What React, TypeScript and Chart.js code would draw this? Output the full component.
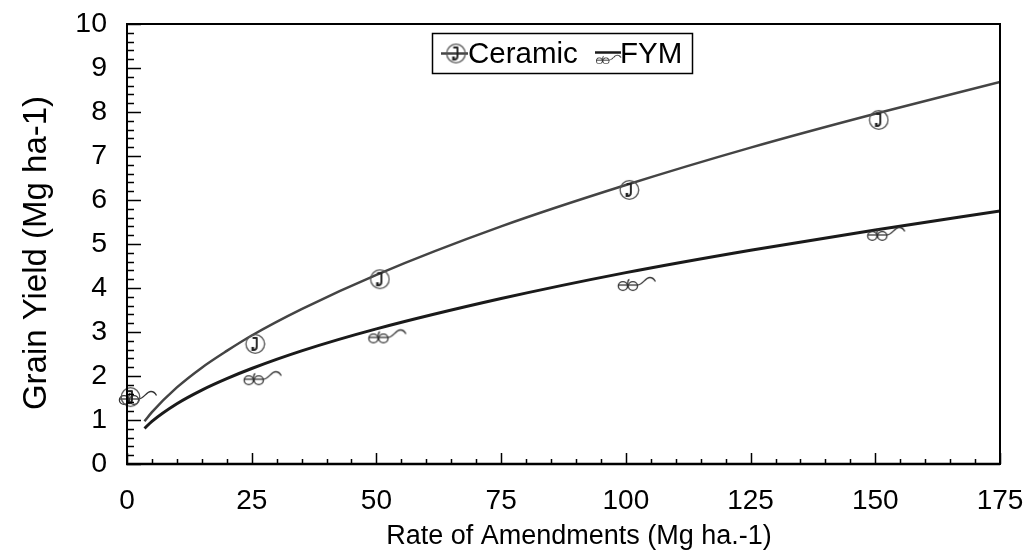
import React, { useEffect, useRef } from 'react';
import { Chart, registerables } from 'chart.js';
Chart.register(...registerables);

// Fitted curves
const curveX = [3.5, 5, 10, 15, 20, 25, 35, 50, 75, 100, 125, 150, 175];
const ceramicFit = [0.97, 1.18, 1.74, 2.19, 2.57, 2.92, 3.52, 4.3, 5.4, 6.34, 7.19, 7.96, 8.68];
const fymFit = [0.81, 0.97, 1.37, 1.68, 1.94, 2.17, 2.57, 3.07, 3.76, 4.35, 4.86, 5.32, 5.75];

// Observed points
const obsX = [0, 25, 50, 100, 150];
const ceramicObs = [1.52, 2.73, 4.2, 6.23, 7.82];
const fymObs = [1.5, 1.95, 2.9, 4.09, 5.23];

const seriesNames = ['Ceramic', 'FYM'];
const xTitle = 'Rate of Amendments (Mg ha.-1)';
const yTitle = 'Grain Yield (Mg ha-1)';
const xTicks = [0, 25, 50, 75, 100, 125, 150, 175];
const yTicks = [0, 1, 2, 3, 4, 5, 6, 7, 8, 9, 10];

const FONT = "'Liberation Sans', Arial, sans-serif";

function makePhone(): HTMLCanvasElement {
  const c = document.createElement('canvas');
  c.width = 28;
  c.height = 24;
  const ctx = c.getContext('2d')!;
  const cx = 17.5, cy = 12;
  ctx.strokeStyle = '#555';
  ctx.lineWidth = 1.3;
  ctx.beginPath();
  ctx.arc(cx, cy, 9.3, 0, Math.PI * 2);
  ctx.stroke();
  ctx.strokeStyle = '#222';
  ctx.fillStyle = '#222';
  ctx.lineWidth = 1.9;
  ctx.lineCap = 'round';
  ctx.beginPath();
  ctx.moveTo(cx - 2, cy - 6);
  ctx.lineTo(cx + 1.5, cy - 6);
  ctx.moveTo(cx + 1.5, cy - 6);
  ctx.lineTo(cx + 1.5, cy + 2.5);
  ctx.quadraticCurveTo(cx + 1.5, cy + 6, cx - 1.5, cy + 6);
  ctx.stroke();
  ctx.fillRect(cx - 3.8, cy + 3, 2.6, 4);
  return c;
}

function makeGlasses(): HTMLCanvasElement {
  const c = document.createElement('canvas');
  c.width = 62;
  c.height = 18;
  const ctx = c.getContext('2d')!;
  ctx.strokeStyle = '#333';
  ctx.lineWidth = 1.3;
  const ox = 23;
  ctx.beginPath();
  ctx.moveTo(ox + 0.5, 10);
  ctx.lineTo(ox + 19.5, 10);
  ctx.stroke();
  ctx.beginPath();
  ctx.ellipse(ox + 5, 11, 4.6, 4.3, 0, Math.PI * 1.0, Math.PI * 3.0);
  ctx.stroke();
  ctx.beginPath();
  ctx.ellipse(ox + 15, 11, 4.6, 4.3, 0, Math.PI * 1.0, Math.PI * 3.0);
  ctx.stroke();
  ctx.beginPath();
  ctx.moveTo(ox + 9.8, 10);
  ctx.quadraticCurveTo(ox + 9.5, 5, ox + 11.5, 4.5);
  ctx.stroke();
  ctx.beginPath();
  ctx.moveTo(ox + 19.5, 10);
  ctx.bezierCurveTo(ox + 25, 10, ox + 27, 2.5, ox + 32, 2.5);
  ctx.bezierCurveTo(ox + 35, 2.5, ox + 36.5, 4.5, ox + 37.5, 6.5);
  ctx.stroke();
  return c;
}

export default function App() {
  const ref = useRef<HTMLCanvasElement | null>(null);

  useEffect(() => {
    document.body.style.margin = '0';
    const phone = makePhone();
    const glasses = makeGlasses();

    const frameTicks = {
      id: 'frameTicks',
      afterDraw(chart: any) {
        const { ctx, chartArea } = chart;
        const { left, top, right, bottom } = chartArea;
        const xs = chart.scales.x;
        const ys = chart.scales.y;
        ctx.save();
        ctx.strokeStyle = '#000';
        ctx.lineWidth = 1.5;
        ctx.beginPath();
        for (let i = 0; i <= 50; i++) {
          const py = Math.round(ys.getPixelForValue(i * 0.2)) + 0.5;
          const len = i % 5 === 0 ? 14 : 7;
          ctx.moveTo(left, py);
          ctx.lineTo(left + len, py);
        }
        for (let i = 0; i <= 35; i++) {
          const px = Math.round(xs.getPixelForValue(i * 5)) + 0.5;
          const len = i % 5 === 0 ? 11 : 5;
          ctx.moveTo(px, bottom);
          ctx.lineTo(px, bottom - len);
        }
        ctx.stroke();
        ctx.lineWidth = 2;
        ctx.strokeRect(left, top, right - left, bottom - top);
        ctx.lineWidth = 2.5;
        ctx.beginPath();
        ctx.moveTo(left - 1, bottom);
        ctx.lineTo(right, bottom);
        ctx.stroke();

        // axis titles
        ctx.fillStyle = '#000';
        ctx.textAlign = 'center';
        ctx.textBaseline = 'middle';
        ctx.font = `27px ${FONT}`;
        ctx.fillText(xTitle, 579, 537);
        ctx.translate(37, 253);
        ctx.rotate(-Math.PI / 2);
        ctx.font = `33px ${FONT}`;
        ctx.fillText(yTitle, 0, 0);
        ctx.restore();
      },
    };

    const legendBox = {
      id: 'legendBox',
      afterDraw(chart: any) {
        const { ctx } = chart;
        ctx.save();
        ctx.strokeStyle = '#000';
        ctx.lineWidth = 1.5;
        ctx.strokeRect(432.5, 33.5, 260, 40);
        const cy = 53.5;
        ctx.strokeStyle = '#444';
        ctx.lineWidth = 2.5;
        ctx.beginPath();
        ctx.moveTo(441, cy);
        ctx.lineTo(468, cy);
        ctx.stroke();
        ctx.drawImage(phone, 456 - 17.5, cy - 12);
        ctx.fillStyle = '#000';
        ctx.font = `29.5px ${FONT}`;
        ctx.textBaseline = 'middle';
        ctx.textAlign = 'left';
        ctx.fillText(seriesNames[0], 468, cy + 1);
        ctx.strokeStyle = '#1a1a1a';
        ctx.lineWidth = 2.5;
        ctx.beginPath();
        ctx.moveTo(595, cy - 1);
        ctx.lineTo(621, cy - 1);
        ctx.stroke();
        ctx.drawImage(glasses, 23, 0, 39, 18, 596, cy, 26, 12);
        ctx.fillText(seriesNames[1], 620, cy + 1);
        ctx.restore();
      },
    };

    const chart = new Chart(ref.current!, {
      type: 'scatter',
      data: {
        datasets: [
          {
            label: seriesNames[0] + ' observed',
            data: obsX.map((x, i) => ({ x, y: ceramicObs[i] })),
            pointStyle: phone as any,
            pointRadius: 10,
            showLine: false,
            order: 0,
            clip: false as any,
          },
          {
            label: seriesNames[1] + ' observed',
            data: obsX.map((x, i) => ({ x, y: fymObs[i] })),
            pointStyle: glasses as any,
            pointRadius: 10,
            showLine: false,
            order: 0,
            clip: false as any,
          },
          {
            label: seriesNames[0],
            data: curveX.map((x, i) => ({ x, y: ceramicFit[i] })),
            showLine: true,
            borderColor: '#444444',
            borderWidth: 2.5,
            pointRadius: 0,
            cubicInterpolationMode: 'monotone',
            order: 1,
          },
          {
            label: seriesNames[1],
            data: curveX.map((x, i) => ({ x, y: fymFit[i] })),
            showLine: true,
            borderColor: '#1a1a1a',
            borderWidth: 3,
            pointRadius: 0,
            cubicInterpolationMode: 'monotone',
            order: 1,
          },
        ],
      },
      options: {
        animation: false,
        responsive: true,
        maintainAspectRatio: false,
        layout: { padding: { top: 24, right: 27, left: 0, bottom: 0 } },
        plugins: {
          legend: { display: false },
          tooltip: { enabled: false },
        },
        scales: {
          x: {
            type: 'linear',
            min: 0,
            max: 175,
            afterBuildTicks: (s: any) => {
              s.ticks = xTicks.map((v) => ({ value: v }));
            },
            afterFit: (s: any) => {
              s.height = 90;
              s.paddingLeft = 0;
              s.paddingRight = 0;
            },
            grid: { display: false, drawTicks: false },
            border: { display: false },
            ticks: {
              color: '#000',
              padding: 20,
              maxRotation: 0,
              autoSkip: false,
              font: { family: FONT, size: 28 },
            },
            title: { display: false, text: xTitle },
          },
          y: {
            type: 'linear',
            min: 0,
            max: 10,
            afterBuildTicks: (s: any) => {
              s.ticks = yTicks.map((v) => ({ value: v }));
            },
            afterFit: (s: any) => {
              s.width = 127;
              s.paddingTop = 0;
              s.paddingBottom = 0;
            },
            grid: { display: false, drawTicks: false },
            border: { display: false },
            ticks: {
              color: '#000',
              padding: 20,
              autoSkip: false,
              font: { family: FONT, size: 28.5 },
            },
            title: { display: false, text: yTitle },
          },
        },
      },
      plugins: [frameTicks, legendBox],
    });
    return () => chart.destroy();
  }, []);

  return (
    <div style={{ position: 'fixed', left: 0, top: 0, width: 1027, height: 554 }}>
      <canvas ref={ref} />
    </div>
  );
}
